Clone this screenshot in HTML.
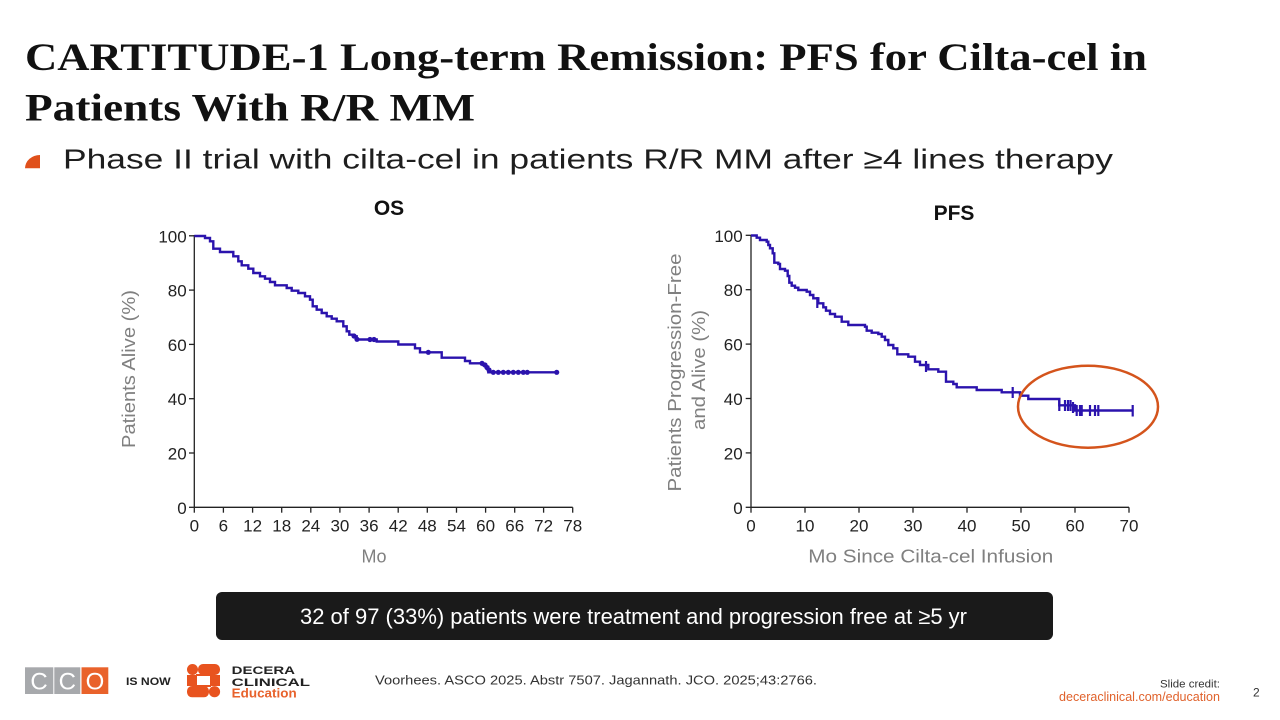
<!DOCTYPE html>
<html>
<head>
<meta charset="utf-8">
<style>
  html, body { margin:0; padding:0; background:#ffffff; }
  svg { display:block; }
  text { font-family: "Liberation Sans", "DejaVu Sans", sans-serif; }
  .serif { font-family: "Liberation Serif", "DejaVu Serif", serif; font-weight:bold; }
  .tick { font-size:17px; fill:#222; }
  .axt { font-size:18px; fill:#808080; }
</style>
</head>
<body>
<svg width="1280" height="720" viewBox="0 0 1280 720" xmlns="http://www.w3.org/2000/svg">
  <rect width="1280" height="720" fill="#ffffff"/>

  <!-- Title -->
  <text class="serif" x="25" y="70" font-size="39" fill="#111" textLength="1122" lengthAdjust="spacingAndGlyphs">CARTITUDE-1 Long-term Remission: PFS for Cilta-cel in</text>
  <text class="serif" x="25" y="120.5" font-size="39" fill="#111" textLength="450" lengthAdjust="spacingAndGlyphs">Patients With R/R MM</text>

  <!-- Bullet -->
  <path d="M25,168.3 A15,13.3 0 0 1 40,155 L40,168.3 Z" fill="#e0501b"/>
  <text x="63" y="168.3" font-size="28" fill="#1e1e1e" textLength="1050" lengthAdjust="spacingAndGlyphs">Phase II trial with cilta-cel in patients R/R MM after ≥4 lines therapy</text>

  <!-- ================= OS chart ================= -->
  <text x="389" y="215" font-size="21" font-weight="bold" fill="#111" text-anchor="middle">OS</text>
  <g stroke="#222" stroke-width="1.3" fill="none">
    <line x1="194.3" y1="235" x2="194.3" y2="507.3"/>
    <line x1="194.3" y1="507.3" x2="572.7" y2="507.3"/>
    <line x1="189" y1="235.8" x2="194.3" y2="235.8"/>
    <line x1="189" y1="290.1" x2="194.3" y2="290.1"/>
    <line x1="189" y1="344.4" x2="194.3" y2="344.4"/>
    <line x1="189" y1="398.7" x2="194.3" y2="398.7"/>
    <line x1="189" y1="453.0" x2="194.3" y2="453.0"/>
    <line x1="189" y1="507.3" x2="194.3" y2="507.3"/>
    <line x1="194.3" y1="507.3" x2="194.3" y2="512.7"/>
    <line x1="223.4" y1="507.3" x2="223.4" y2="512.7"/>
    <line x1="252.6" y1="507.3" x2="252.6" y2="512.7"/>
    <line x1="281.7" y1="507.3" x2="281.7" y2="512.7"/>
    <line x1="310.8" y1="507.3" x2="310.8" y2="512.7"/>
    <line x1="339.9" y1="507.3" x2="339.9" y2="512.7"/>
    <line x1="369.1" y1="507.3" x2="369.1" y2="512.7"/>
    <line x1="398.2" y1="507.3" x2="398.2" y2="512.7"/>
    <line x1="427.3" y1="507.3" x2="427.3" y2="512.7"/>
    <line x1="456.5" y1="507.3" x2="456.5" y2="512.7"/>
    <line x1="485.6" y1="507.3" x2="485.6" y2="512.7"/>
    <line x1="514.7" y1="507.3" x2="514.7" y2="512.7"/>
    <line x1="543.6" y1="507.3" x2="543.6" y2="512.7"/>
    <line x1="572.7" y1="507.3" x2="572.7" y2="512.7"/>
  </g>
  <g class="tick" text-anchor="end">
    <text x="186.7" y="242.3">100</text>
    <text x="186.7" y="296.6">80</text>
    <text x="186.7" y="350.9">60</text>
    <text x="186.7" y="405.2">40</text>
    <text x="186.7" y="459.5">20</text>
    <text x="186.7" y="513.8">0</text>
  </g>
  <g class="tick" text-anchor="middle">
    <text x="194.3" y="531.7">0</text>
    <text x="223.4" y="531.7">6</text>
    <text x="252.6" y="531.7">12</text>
    <text x="281.7" y="531.7">18</text>
    <text x="310.8" y="531.7">24</text>
    <text x="339.9" y="531.7">30</text>
    <text x="369.1" y="531.7">36</text>
    <text x="398.2" y="531.7">42</text>
    <text x="427.3" y="531.7">48</text>
    <text x="456.5" y="531.7">54</text>
    <text x="485.6" y="531.7">60</text>
    <text x="514.7" y="531.7">66</text>
    <text x="543.6" y="531.7">72</text>
    <text x="572.7" y="531.7">78</text>
  </g>
  <text class="axt" transform="translate(135,369) rotate(-90)" text-anchor="middle" textLength="158" lengthAdjust="spacingAndGlyphs">Patients Alive (%)</text>
  <text class="axt" x="374" y="562.7" text-anchor="middle">Mo</text>

  <path fill="none" stroke="#2b13ad" stroke-width="2.4" stroke-linejoin="miter"
    d="M194.3,236 H205 V238 H210 V241.3 H213.3 V248.7 H220 V252 H233.3 V256.3 H238.3 V261.3 H241.7 V265.3 H248.3 V268.7 H253.3 V273 H260 V276.3 H265 V278.7 H270 V282 H275 V285.3 H286.7 V288 H291.7 V290.7 H298.3 V293 H305 V296.3 H310 V299.7 H312.7 V306.3 H316.7 V309.7 H321.7 V313 H326.7 V316.3 H331.7 V318.7 H336.7 V321.3 H343.3 V326.3 H346.7 V331.3 H349.3 V334.7 H353.3 V336.3 H356.7 V339.5 H376.7 V341.5 H398.3 V344.5 H415 V348.3 H420 V352.3 H441.7 V357.7 H465 V361 H470 V363.3 H483 V365 H486 V367 H488.3 V372.3 H556.7"/>
  <g fill="#2b13ad">
    <circle cx="354" cy="336" r="2.6"/>
    <circle cx="357" cy="339.3" r="2.6"/>
    <circle cx="370" cy="339.5" r="2.6"/>
    <circle cx="374" cy="339.5" r="2.6"/>
    <circle cx="428.3" cy="352.3" r="2.6"/>
    <circle cx="482" cy="363.3" r="2.6"/>
    <circle cx="485" cy="365" r="2.6"/>
    <circle cx="487" cy="367.5" r="2.6"/>
    <circle cx="489" cy="370" r="2.6"/>
    <circle cx="493.3" cy="372.3" r="2.6"/>
    <circle cx="498.3" cy="372.3" r="2.6"/>
    <circle cx="503.3" cy="372.3" r="2.6"/>
    <circle cx="508.3" cy="372.3" r="2.6"/>
    <circle cx="513.3" cy="372.3" r="2.6"/>
    <circle cx="518.3" cy="372.3" r="2.6"/>
    <circle cx="523.3" cy="372.3" r="2.6"/>
    <circle cx="527.3" cy="372.3" r="2.6"/>
    <circle cx="556.7" cy="372.3" r="2.6"/>
  </g>

  <!-- ================= PFS chart ================= -->
  <text x="954" y="220" font-size="21" font-weight="bold" fill="#111" text-anchor="middle">PFS</text>
  <g stroke="#222" stroke-width="1.3" fill="none">
    <line x1="751" y1="235" x2="751" y2="507.3"/>
    <line x1="751" y1="507.3" x2="1129" y2="507.3"/>
    <line x1="745.7" y1="235.3" x2="751" y2="235.3"/>
    <line x1="745.7" y1="289.7" x2="751" y2="289.7"/>
    <line x1="745.7" y1="344.1" x2="751" y2="344.1"/>
    <line x1="745.7" y1="398.5" x2="751" y2="398.5"/>
    <line x1="745.7" y1="452.9" x2="751" y2="452.9"/>
    <line x1="745.7" y1="507.3" x2="751" y2="507.3"/>
    <line x1="751" y1="507.3" x2="751" y2="512.7"/>
    <line x1="805" y1="507.3" x2="805" y2="512.7"/>
    <line x1="859" y1="507.3" x2="859" y2="512.7"/>
    <line x1="913" y1="507.3" x2="913" y2="512.7"/>
    <line x1="967" y1="507.3" x2="967" y2="512.7"/>
    <line x1="1021" y1="507.3" x2="1021" y2="512.7"/>
    <line x1="1075" y1="507.3" x2="1075" y2="512.7"/>
    <line x1="1129" y1="507.3" x2="1129" y2="512.7"/>
  </g>
  <g class="tick" text-anchor="end">
    <text x="742.7" y="241.8">100</text>
    <text x="742.7" y="296.2">80</text>
    <text x="742.7" y="350.6">60</text>
    <text x="742.7" y="405">40</text>
    <text x="742.7" y="459.4">20</text>
    <text x="742.7" y="513.8">0</text>
  </g>
  <g class="tick" text-anchor="middle">
    <text x="751" y="531.7">0</text>
    <text x="805" y="531.7">10</text>
    <text x="859" y="531.7">20</text>
    <text x="913" y="531.7">30</text>
    <text x="967" y="531.7">40</text>
    <text x="1021" y="531.7">50</text>
    <text x="1075" y="531.7">60</text>
    <text x="1129" y="531.7">70</text>
  </g>
  <text class="axt" transform="translate(681,372.5) rotate(-90)" text-anchor="middle" textLength="238" lengthAdjust="spacingAndGlyphs">Patients Progression-Free</text>
  <text class="axt" transform="translate(705,370) rotate(-90)" text-anchor="middle" textLength="120" lengthAdjust="spacingAndGlyphs">and Alive (%)</text>
  <text class="axt" x="930.8" y="562.7" text-anchor="middle" textLength="245" lengthAdjust="spacingAndGlyphs">Mo Since Cilta-cel Infusion</text>

  <path fill="none" stroke="#2b13ad" stroke-width="2.4"
    d="M751,235.5 H756.7 V237.7 H760 V240 H766.7 V241.7 H768.3 V245 H770 V248.3 H772.7 V253.3 H774.3 V262.7 H778.3 V264 H780 V269 H785 V270.7 H787.7 V276 H789.3 V282.7 H791.7 V285.7 H795 V287.7 H798.3 V290 H806.7 V291.7 H810 V295 H813.3 V298.3 H818.3 V303.3 H823.3 V307.3 H826 V310.7 H830 V314 H835 V316.7 H841.7 V321.7 H848.3 V325 H865 V326.7 H866.7 V330.7 H871.7 V332.7 H878.3 V334 H881.7 V336.7 H885 V340 H888.3 V345 H893.3 V348.3 H897.3 V354.3 H908.3 V356.7 H915 V361.7 H920 V365 H928.3 V369.3 H938.3 V371.7 H946 V381.7 H953.3 V384 H956.7 V387.3 H976.7 V390 H1001.7 V392.3 H1020 V395.7 H1028.3 V399 H1059.3 V405.3 H1075 V410.5 H1133.3"/>
  <g stroke="#2b13ad" stroke-width="2.2">
    <line x1="817.3" y1="297" x2="817.3" y2="308"/>
    <line x1="926" y1="361" x2="926" y2="372"/>
    <line x1="1012.7" y1="387" x2="1012.7" y2="398"/>
    <line x1="1059.3" y1="400" x2="1059.3" y2="411"/>
    <line x1="1065" y1="400" x2="1065" y2="411"/>
    <line x1="1068" y1="400" x2="1068" y2="411"/>
    <line x1="1070.5" y1="400" x2="1070.5" y2="411"/>
    <line x1="1073" y1="402" x2="1073" y2="413"/>
    <line x1="1076.7" y1="405" x2="1076.7" y2="416"/>
    <line x1="1080" y1="405" x2="1080" y2="416"/>
    <line x1="1081.7" y1="405" x2="1081.7" y2="416"/>
    <line x1="1090" y1="405" x2="1090" y2="416"/>
    <line x1="1095" y1="405" x2="1095" y2="416"/>
    <line x1="1098.3" y1="405" x2="1098.3" y2="416"/>
    <line x1="1132.7" y1="405" x2="1132.7" y2="416.5"/>
  </g>
  <ellipse cx="1088" cy="406.7" rx="70" ry="41" fill="none" stroke="#d4541c" stroke-width="2.5"/>

  <!-- Callout box -->
  <rect x="216" y="592" width="837" height="48" rx="6" ry="6" fill="#1a1a1a"/>
  <text x="300" y="624" font-size="22" fill="#ffffff" textLength="667" lengthAdjust="spacingAndGlyphs">32 of 97 (33%) patients were treatment and progression free at ≥5 yr</text>

  <!-- CCO logo -->
  <rect x="25" y="667.3" width="28.3" height="26.7" fill="#a7a9ac"/>
  <rect x="54.3" y="667.3" width="26" height="26.7" fill="#a7a9ac"/>
  <rect x="81.5" y="667.3" width="26.8" height="26.7" fill="#e9622b"/>
  <g font-size="24" fill="#ffffff" text-anchor="middle">
    <text x="39" y="689.5">C</text>
    <text x="67.3" y="689.5">C</text>
    <text x="95" y="689.5">O</text>
  </g>
  <text x="126" y="685" font-size="11" font-weight="bold" fill="#222" textLength="44.7" lengthAdjust="spacingAndGlyphs">IS NOW</text>

  <!-- Decera icon -->
  <g fill="#e8531f">
    <circle cx="192.5" cy="669.5" r="5.5"/>
    <rect x="198" y="664" width="22" height="11" rx="5"/>
    <rect x="187" y="675" width="10" height="11"/>
    <rect x="210" y="675" width="10" height="11"/>
    <rect x="187" y="686" width="22" height="11.3" rx="5"/>
    <circle cx="214.5" cy="691.7" r="5.6"/>
    <rect x="196" y="674" width="15" height="2"/>
    <rect x="196" y="685" width="15" height="2"/>
  </g>
  <text x="231.7" y="674" font-size="11" font-weight="bold" fill="#222" textLength="63.3" lengthAdjust="spacingAndGlyphs">DECERA</text>
  <text x="231.7" y="686" font-size="11" font-weight="bold" fill="#222" textLength="78.3" lengthAdjust="spacingAndGlyphs">CLINICAL</text>
  <text x="231.7" y="697.3" font-size="12.5" font-weight="bold" fill="#e8622c" textLength="65" lengthAdjust="spacingAndGlyphs">Education</text>

  <!-- Citation -->
  <text x="375" y="684.5" font-size="13" fill="#333" textLength="442" lengthAdjust="spacingAndGlyphs">Voorhees. ASCO 2025. Abstr 7507. Jagannath. JCO. 2025;43:2766.</text>

  <!-- Slide credit -->
  <text x="1160" y="687.3" font-size="11" fill="#333" textLength="60" lengthAdjust="spacingAndGlyphs">Slide credit:</text>
  <text x="1059" y="701" font-size="12.5" fill="#e0622c" textLength="161" lengthAdjust="spacingAndGlyphs">deceraclinical.com/education</text>
  <text x="1253" y="696.7" font-size="12" fill="#333">2</text>
</svg>
</body>
</html>
